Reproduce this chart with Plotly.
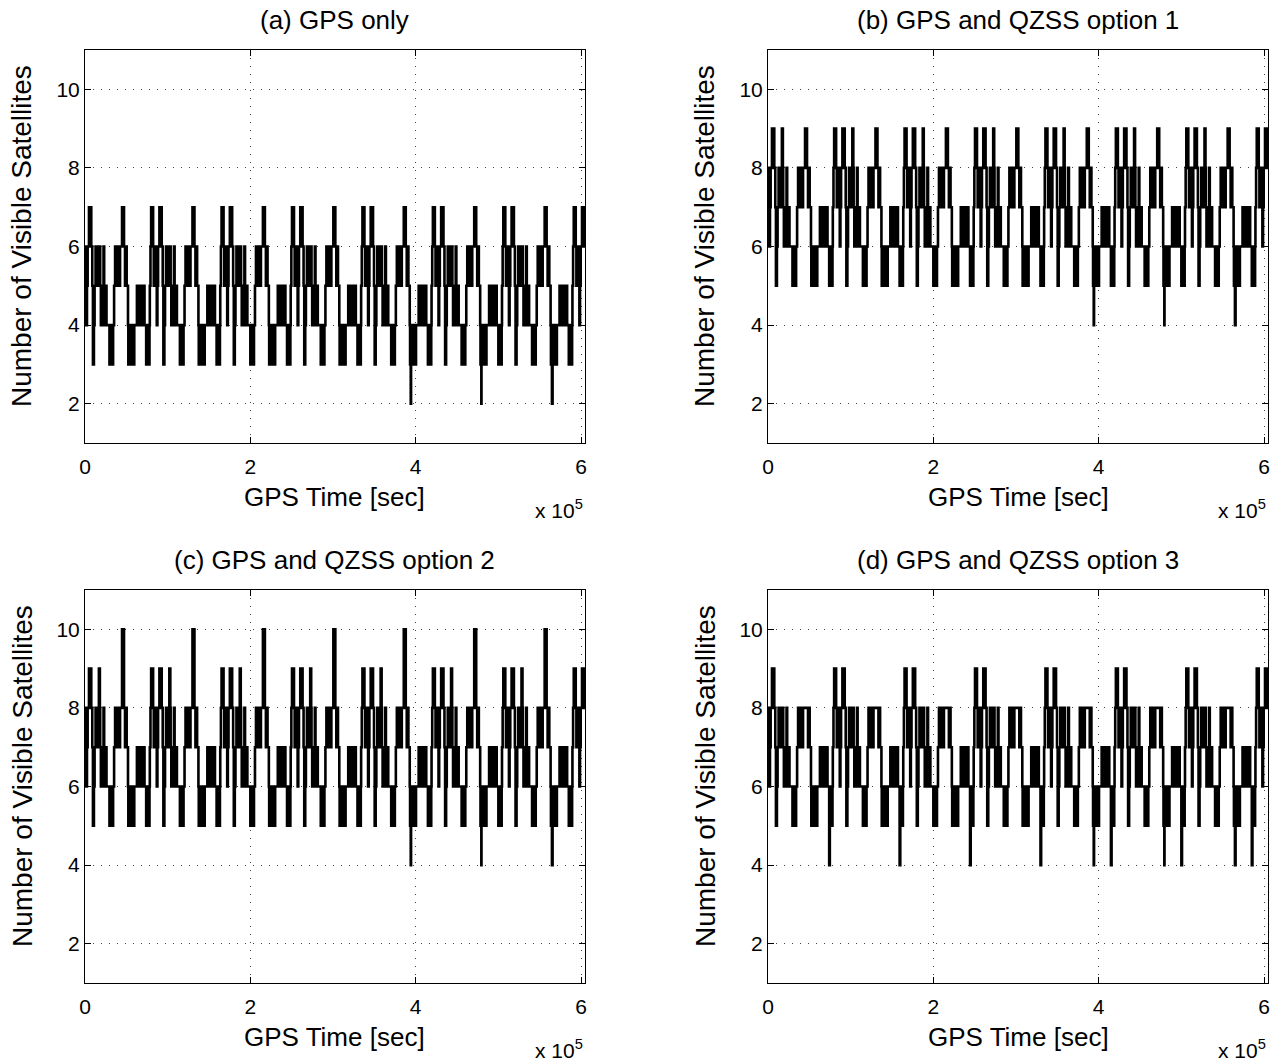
import plotly.graph_objects as go

# ---------------- data ----------------
# Start of each repeating (ground-track) day, seconds
day_starts = [0, 85200, 170400, 255600, 340800, 426000, 511200, 596400]
t_end = 604800
phase_unit_s = 400  # seconds per phase unit

# transition phases within one repeat day (phase units)
phases = [0, 2, 4, 6, 8, 12, 19, 22, 24, 27, 29, 32, 35, 37, 40, 41, 42, 45, 46, 48,
          50, 52, 54, 56, 58, 60, 63, 65, 74, 76, 78, 80, 82, 85, 88, 91, 94, 96, 99, 101,
          104, 106, 112, 118, 121, 123, 126, 130, 131, 134, 136, 138, 140, 143, 146, 149, 157, 159, 161, 163,
          165, 167, 169, 171, 173, 175, 177, 180, 185, 187, 189, 191, 193, 195, 196, 198, 200, 206, 208, 210,
          212]

vals_a = [5, 6, 4, 5, 6, 7, 6, 5, 3, 4, 5, 6, 5, 6, 5, 6, 6, 6, 5, 4,
          5, 4, 5, 6, 5, 4, 5, 4, 3, 4, 3, 4, 3, 4, 5, 6, 5, 6, 5, 6,
          5, 6, 7, 6, 5, 6, 5, 4, 3, 4, 3, 4, 3, 4, 3, 4, 5, 4, 5, 4,
          5, 4, 5, 4, 5, 4, 5, 4, 3, 4, 3, 4, 3, 4, 5, 6, 7, 6, 5, 6,
          5]
vals_b = [7, 8, 6, 7, 8, 9, 8, 7, 5, 6, 7, 8, 7, 8, 7, 8, 9, 8, 7, 6,
          7, 6, 7, 8, 7, 6, 7, 6, 5, 6, 5, 6, 5, 6, 7, 8, 7, 8, 7, 8,
          7, 8, 9, 8, 7, 8, 7, 6, 5, 6, 5, 6, 5, 6, 5, 6, 7, 6, 7, 6,
          7, 6, 7, 6, 7, 6, 7, 6, 5, 6, 5, 6, 5, 6, 7, 8, 9, 8, 7, 8,
          7]
vals_c = [7, 8, 6, 7, 8, 9, 8, 7, 5, 6, 7, 8, 7, 8, 7, 8, 9, 8, 7, 6,
          7, 6, 7, 8, 7, 6, 7, 6, 5, 6, 5, 6, 5, 6, 7, 8, 7, 8, 7, 8,
          7, 8, 10, 8, 7, 8, 7, 6, 5, 6, 5, 6, 5, 6, 5, 6, 7, 6, 7, 6,
          7, 6, 7, 6, 7, 6, 7, 6, 5, 6, 5, 6, 5, 6, 7, 8, 9, 8, 7, 8,
          7]
vals_d = [7, 8, 6, 7, 8, 9, 8, 7, 5, 6, 7, 8, 7, 8, 7, 8, 8, 8, 7, 6,
          7, 6, 7, 8, 7, 6, 7, 6, 5, 6, 5, 6, 5, 6, 7, 8, 7, 8, 7, 8,
          7, 8, 8, 8, 7, 8, 7, 6, 5, 6, 5, 6, 5, 6, 5, 6, 7, 6, 7, 6,
          7, 6, 7, 6, 7, 6, 7, 6, 4, 6, 5, 6, 5, 6, 7, 8, 9, 8, 7, 8,
          7]

# isolated extra drops (seconds) and their levels per panel
dip_times = [394000, 479400, 564800]
dip_levels = {"a": 2, "b": 4, "c": 4, "d": 4}

titles = {"a": "(a) GPS only", "b": "(b) GPS and QZSS option 1",
          "c": "(c) GPS and QZSS option 2", "d": "(d) GPS and QZSS option 3"}
x_tickvals = [0, 200000, 400000, 600000]
x_ticktext = ["0", "2", "4", "6"]
y_tickvals = [2, 4, 6, 8, 10]


def build_series(vals, dip_level):
    pts = []
    for ds in day_starts:
        for ph, v in zip(phases, vals):
            t = ds + ph * phase_unit_s
            if t <= t_end:
                pts.append((t, v))
    for td in dip_times:
        pts.append((td, dip_level))
    pts.sort(key=lambda p: p[0])
    xs = [p[0] for p in pts] + [t_end]
    ys = [p[1] for p in pts] + [pts[-1][1]]
    return xs, ys


W, H = 1283, 1063
FONT = "Liberation Sans, Arial, Helvetica, sans-serif"
TICK_SIZE = 21
LABEL_SIZE = 26
YLABEL_SIZE = 28


def px_x(px):
    return px / W


def px_y(py):
    return 1 - py / H


panels = {
    "a": dict(x0=85, x1=585, y0=50, y1=443, ax=""),
    "b": dict(x0=768, x1=1268, y0=50, y1=443, ax="2"),
    "c": dict(x0=85, x1=585, y0=590, y1=983, ax="3"),
    "d": dict(x0=768, x1=1268, y0=590, y1=983, ax="4"),
}
series_vals = {"a": vals_a, "b": vals_b, "c": vals_c, "d": vals_d}

fig = go.Figure()
layout = dict(
    width=W, height=H, margin=dict(l=0, r=0, t=0, b=0, pad=0), autosize=False,
    paper_bgcolor="white", plot_bgcolor="white", showlegend=False,
    font=dict(family=FONT, size=TICK_SIZE, color="black"),
)
annotations = []
for key, p in panels.items():
    xs, ys = build_series(series_vals[key], dip_levels[key])
    fig.add_trace(go.Scatter(x=xs, y=ys, mode="lines", line_shape="hv",
                             line=dict(color="black", width=2.6),
                             xaxis="x" + p["ax"], yaxis="y" + p["ax"],
                             hoverinfo="skip"))
    axis_common = dict(showline=True, linecolor="black", linewidth=1, mirror="ticks",
                       ticks="inside", ticklen=6, tickcolor="black", automargin=False,
                       showgrid=True, gridcolor="#444444", gridwidth=1, griddash="1px,7px",
                       zeroline=False, tickfont=dict(family=FONT, size=TICK_SIZE, color="black"))
    layout["xaxis" + p["ax"]] = dict(
        domain=[px_x(p["x0"]), px_x(p["x1"])], range=[0, t_end],
        tickvals=x_tickvals, ticktext=x_ticktext, anchor="y" + p["ax"],
        ticklabelstandoff=5, **axis_common)
    layout["yaxis" + p["ax"]] = dict(
        domain=[px_y(p["y1"]), px_y(p["y0"])], range=[1, 11],
        tickvals=y_tickvals, anchor="x" + p["ax"], **axis_common)
    cx = (p["x0"] + p["x1"]) / 2
    annotations.append(dict(text=titles[key], x=px_x(cx), y=px_y(p["y0"] - 30),
                            xref="paper", yref="paper", showarrow=False,
                            xanchor="center", yanchor="middle", font=dict(size=LABEL_SIZE)))
    annotations.append(dict(text="GPS Time [sec]", x=px_x(cx), y=px_y(p["y1"] + 54),
                            xref="paper", yref="paper", showarrow=False,
                            xanchor="center", yanchor="middle", font=dict(size=LABEL_SIZE)))
    annotations.append(dict(text="Number of Visible Satellites", x=px_x(p["x0"] - 63),
                            y=px_y(p["y0"] + 186),
                            xref="paper", yref="paper", showarrow=False, textangle=-90,
                            xanchor="center", yanchor="middle", font=dict(size=YLABEL_SIZE)))
    annotations.append(dict(text="x 10<sup>5</sup>", x=px_x(p["x1"]), y=px_y(p["y1"] + 66),
                            xref="paper", yref="paper", showarrow=False,
                            xanchor="right", yanchor="middle", font=dict(size=TICK_SIZE)))
layout["annotations"] = annotations
fig.update_layout(**layout)
fig.write_html("out.html", config={"displayModeBar": False},
               post_script="document.body.style.margin='0';document.body.style.overflow='hidden';")
